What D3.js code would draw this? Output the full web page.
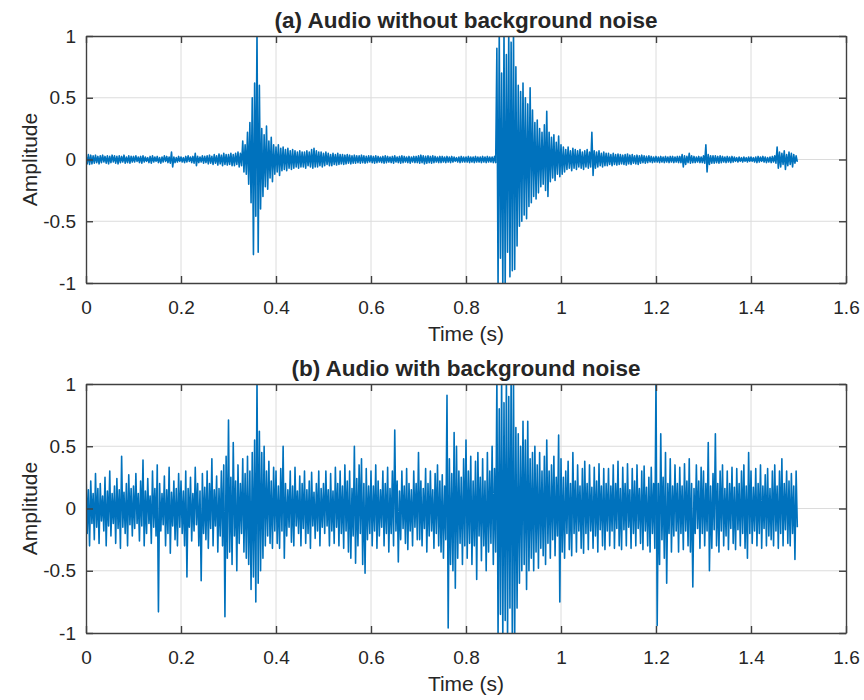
<!DOCTYPE html>
<html>
<head>
<meta charset="utf-8">
<script src="https://cdn.jsdelivr.net/npm/d3@7"></script>
<style>
  body { margin: 0; background: #fff; }
  svg text { font-family: "Liberation Sans", Arial, sans-serif; fill: #262626; }
</style>
</head>
<body>
<div id="container"></div>
<script>
const WIDTH = 864;
const HEIGHT = 700;
const LEFT = 86;
const RIGHT = 846;
const LINE_COLOR = "#0072BD";

// one slot every 5 ms: a positive peak then a negative peak
const T_STEP = 0.005;
const X_TICKS = [0, 0.2, 0.4, 0.6, 0.8, 1, 1.2, 1.4, 1.6];
const Y_TICKS = [-1, -0.5, 0, 0.5, 1];
const TITLES = ["(a) Audio without background noise", "(b) Audio with background noise"];

// (a) clean audio
var cleanTop = [
    0.035,0.04,0.035,0.03,0.035,0.025,0.03,0.035,0.025,0.03,0.025,0.035,0.03,0.025,0.03,0.025,0.035,0.02,0.03,0.025,
    0.025,0.03,0.02,0.025,0.03,0.02,0.015,0.025,0.03,0.02,0.025,0.015,0.02,0.03,0.025,0.02,0.06,0.02,0.015,0.025,
    0.02,0.015,0.025,0.03,0.02,0.025,0.05,0.025,0.02,0.03,0.025,0.03,0.035,0.025,0.04,0.03,0.045,0.035,0.05,0.04,
    0.04,0.05,0.04,0.05,0.06,0.05,0.15,0.12,0.22,0.3,0.5,0.62,1.05,0.6,0.25,0.2,0.27,0.15,0.18,0.12,
    0.1,0.12,0.09,0.1,0.08,0.09,0.07,0.08,0.07,0.06,0.07,0.06,0.06,0.07,0.06,0.08,0.09,0.07,0.06,0.06,
    0.05,0.06,0.05,0.04,0.05,0.04,0.05,0.04,0.04,0.035,0.04,0.035,0.03,0.035,0.03,0.03,0.035,0.03,0.025,0.03,
    0.03,0.025,0.03,0.025,0.02,0.025,0.03,0.025,0.02,0.025,0.03,0.02,0.025,0.03,0.025,0.02,0.025,0.02,0.025,0.025,
    0.03,0.035,0.03,0.025,0.03,0.025,0.03,0.025,0.02,0.025,0.025,0.02,0.025,0.02,0.025,0.02,0.015,0.02,0.025,0.02,
    0.02,0.025,0.02,0.02,0.025,0.02,0.02,0.025,0.02,0.025,0.02,0.02,0.025,0.9,1.05,0.7,1.05,0.85,1.05,0.95,
    1.05,0.75,0.6,0.55,0.62,0.5,0.45,0.58,0.4,0.3,0.32,0.25,0.22,0.28,0.39,0.22,0.18,0.2,0.14,0.19,
    0.12,0.1,0.08,0.1,0.07,0.09,0.08,0.07,0.08,0.06,0.07,0.08,0.06,0.22,0.07,0.06,0.07,0.05,0.06,0.05,
    0.05,0.04,0.05,0.04,0.045,0.04,0.035,0.04,0.045,0.035,0.04,0.03,0.035,0.03,0.035,0.03,0.025,0.03,0.025,0.02,
    0.025,0.02,0.025,0.02,0.025,0.02,0.025,0.025,0.02,0.025,0.025,0.04,0.03,0.025,0.05,0.03,0.025,0.02,0.025,0.02,
    0.03,0.12,0.04,0.03,0.03,0.03,0.025,0.03,0.025,0.02,0.025,0.02,0.025,0.02,0.015,0.02,0.015,0.02,0.015,0.02,
    0.02,0.015,0.02,0.025,0.02,0.025,0.02,0.015,0.02,0.025,0.03,0.1,0.06,0.05,0.07,0.04,0.06,0.05,0.04,0.03
];
var cleanBottom = [
    -0.035,-0.04,-0.035,-0.03,-0.025,-0.035,-0.025,-0.02,-0.03,-0.035,-0.025,-0.02,-0.03,-0.035,-0.025,-0.02,-0.03,-0.025,-0.03,-0.02,
    -0.02,-0.015,-0.025,-0.03,-0.02,-0.015,-0.025,-0.03,-0.02,-0.015,-0.025,-0.03,-0.02,-0.015,-0.025,-0.03,-0.06,-0.025,-0.02,-0.015,
    -0.02,-0.025,-0.02,-0.015,-0.025,-0.03,-0.05,-0.025,-0.02,-0.03,-0.025,-0.035,-0.03,-0.04,-0.03,-0.045,-0.035,-0.05,-0.04,-0.045,
    -0.04,-0.05,-0.05,-0.04,-0.06,-0.05,-0.1,-0.12,-0.2,-0.35,-0.77,-0.46,-0.75,-0.4,-0.3,-0.22,-0.24,-0.15,-0.18,-0.12,
    -0.1,-0.13,-0.09,-0.08,-0.09,-0.07,-0.08,-0.07,-0.06,-0.07,-0.06,-0.06,-0.07,-0.05,-0.06,-0.07,-0.06,-0.06,-0.05,-0.06,
    -0.05,-0.04,-0.05,-0.05,-0.04,-0.045,-0.04,-0.035,-0.04,-0.035,-0.03,-0.035,-0.03,-0.03,-0.025,-0.03,-0.025,-0.03,-0.025,-0.02,
    -0.025,-0.03,-0.025,-0.02,-0.025,-0.03,-0.025,-0.02,-0.025,-0.03,-0.02,-0.025,-0.03,-0.025,-0.02,-0.025,-0.03,-0.02,-0.025,-0.025,
    -0.03,-0.025,-0.035,-0.03,-0.025,-0.03,-0.025,-0.02,-0.025,-0.025,-0.02,-0.025,-0.02,-0.025,-0.02,-0.015,-0.02,-0.025,-0.02,-0.02,
    -0.02,-0.025,-0.02,-0.025,-0.02,-0.02,-0.025,-0.02,-0.025,-0.02,-0.02,-0.025,-0.025,-1.05,-0.8,-1.05,-1.05,-0.75,-0.95,-0.9,
    -0.89,-0.7,-0.54,-0.5,-0.45,-0.48,-0.38,-0.35,-0.3,-0.32,-0.27,-0.22,-0.2,-0.25,-0.3,-0.18,-0.15,-0.17,-0.12,-0.14,
    -0.12,-0.1,-0.08,-0.07,-0.09,-0.07,-0.08,-0.06,-0.07,-0.08,-0.06,-0.07,-0.06,-0.13,-0.07,-0.06,-0.05,-0.06,-0.05,-0.05,
    -0.04,-0.05,-0.04,-0.045,-0.04,-0.035,-0.04,-0.045,-0.035,-0.04,-0.03,-0.035,-0.04,-0.03,-0.025,-0.03,-0.025,-0.02,-0.025,-0.02,
    -0.02,-0.025,-0.02,-0.025,-0.02,-0.025,-0.02,-0.025,-0.02,-0.025,-0.025,-0.06,-0.04,-0.025,-0.03,-0.025,-0.025,-0.02,-0.025,-0.025,
    -0.03,-0.1,-0.04,-0.03,-0.03,-0.025,-0.03,-0.025,-0.02,-0.025,-0.02,-0.025,-0.02,-0.015,-0.02,-0.015,-0.02,-0.015,-0.02,-0.015,
    -0.015,-0.02,-0.025,-0.02,-0.015,-0.02,-0.025,-0.02,-0.025,-0.02,-0.03,-0.07,-0.06,-0.04,-0.08,-0.05,-0.04,-0.06,-0.03,-0.02
];

// (b) audio with background noise
var noisyTop = [
    0.3,0.15,0.22,0.12,0.28,0.16,0.2,0.1,0.25,0.14,0.3,0.12,0.18,0.24,0.15,0.42,0.13,0.2,0.27,0.16,
    0.18,0.28,0.12,0.22,0.39,0.14,0.24,0.1,0.3,0.16,0.35,0.2,0.12,0.26,0.15,0.33,0.13,0.22,0.16,0.28,
    0.22,0.14,0.3,0.16,0.25,0.12,0.33,0.2,0.14,0.28,0.17,0.3,0.2,0.4,0.15,0.26,0.16,0.3,0.35,0.42,
    0.71,0.25,0.53,0.22,0.35,0.2,0.4,0.28,0.42,0.3,0.45,0.55,1.05,0.62,0.45,0.5,0.3,0.38,0.22,0.33,
    0.3,0.18,0.32,0.5,0.2,0.15,0.3,0.18,0.33,0.14,0.26,0.2,0.3,0.15,0.22,0.29,0.13,0.2,0.3,0.16,
    0.2,0.3,0.15,0.28,0.14,0.33,0.2,0.3,0.18,0.35,0.22,0.3,0.16,0.5,0.24,0.35,0.4,0.2,0.32,0.18,
    0.3,0.18,0.35,0.22,0.15,0.3,0.2,0.33,0.16,0.3,0.63,0.22,0.14,0.3,0.18,0.32,0.2,0.15,0.3,0.2,
    0.45,0.22,0.16,0.32,0.2,0.3,0.15,0.28,0.35,0.22,0.27,0.18,0.91,0.4,0.28,0.61,0.5,0.3,0.25,0.4,
    0.55,0.3,0.42,0.22,0.38,0.45,0.25,0.4,0.22,0.45,0.3,0.5,0.32,1.05,0.8,1.05,0.85,1.05,0.9,1.05,
    1.05,0.65,0.6,0.5,0.7,0.55,0.7,0.4,0.45,0.5,0.35,0.45,0.3,0.42,0.55,0.3,0.35,0.42,0.25,0.59,
    0.4,0.25,0.3,0.38,0.2,0.45,0.22,0.35,0.18,0.32,0.38,0.2,0.35,0.17,0.33,0.22,0.36,0.18,0.32,0.2,
    0.32,0.18,0.35,0.2,0.38,0.16,0.33,0.2,0.36,0.15,0.32,0.22,0.35,0.16,0.3,0.34,0.17,0.25,0.33,0.2,
    1.05,0.2,0.6,0.25,0.45,0.2,0.4,0.18,0.35,0.2,0.33,0.18,0.36,0.22,0.4,0.2,0.16,0.35,0.22,0.33,
    0.3,0.2,0.53,0.18,0.28,0.6,0.2,0.3,0.35,0.16,0.3,0.2,0.33,0.17,0.32,0.2,0.3,0.35,0.18,0.45,
    0.3,0.17,0.32,0.2,0.35,0.18,0.27,0.32,0.16,0.3,0.35,0.18,0.3,0.4,0.2,0.3,0.22,0.28,0.18,0.3
];
var noisyBottom = [
    -0.2,-0.3,-0.12,-0.25,-0.15,-0.28,-0.1,-0.18,-0.3,-0.14,-0.22,-0.12,-0.28,-0.16,-0.32,-0.15,-0.2,-0.3,-0.13,-0.22,
    -0.16,-0.12,-0.26,-0.14,-0.3,-0.2,-0.12,-0.28,-0.15,-0.22,-0.83,-0.18,-0.13,-0.3,-0.2,-0.36,-0.14,-0.25,-0.3,-0.15,
    -0.2,-0.3,-0.55,-0.15,-0.26,-0.18,-0.13,-0.3,-0.58,-0.2,-0.25,-0.32,-0.16,-0.3,-0.14,-0.35,-0.22,-0.3,-0.87,-0.4,
    -0.35,-0.45,-0.22,-0.5,-0.28,-0.2,-0.35,-0.4,-0.45,-0.65,-0.55,-0.75,-0.6,-0.5,-0.4,-0.3,-0.22,-0.28,-0.32,-0.18,
    -0.28,-0.32,-0.18,-0.4,-0.22,-0.15,-0.27,-0.3,-0.14,-0.2,-0.3,-0.16,-0.28,-0.2,-0.32,-0.14,-0.24,-0.18,-0.3,-0.15,
    -0.2,-0.14,-0.3,-0.18,-0.28,-0.15,-0.3,-0.2,-0.32,-0.18,-0.35,-0.4,-0.22,-0.44,-0.3,-0.2,-0.45,-0.52,-0.25,-0.2,
    -0.3,-0.18,-0.32,-0.22,-0.15,-0.3,-0.2,-0.35,-0.2,-0.3,-0.18,-0.43,-0.25,-0.16,-0.28,-0.33,-0.18,-0.3,-0.15,-0.25,
    -0.25,-0.3,-0.16,-0.35,-0.22,-0.18,-0.32,-0.2,-0.3,-0.35,-0.4,-0.25,-0.96,-0.45,-0.5,-0.64,-0.4,-0.28,-0.45,-0.3,
    -0.4,-0.28,-0.45,-0.3,-0.57,-0.22,-0.42,-0.3,-0.5,-0.35,-0.28,-0.45,-0.35,-1.05,-0.85,-1.05,-0.9,-1.05,-0.8,-1.05,
    -1.05,-0.8,-0.6,-0.5,-0.45,-0.65,-0.5,-0.4,-0.5,-0.35,-0.48,-0.32,-0.38,-0.45,-0.28,-0.4,-0.25,-0.38,-0.22,-0.75,
    -0.35,-0.4,-0.2,-0.33,-0.38,-0.2,-0.35,-0.18,-0.32,-0.36,-0.2,-0.33,-0.18,-0.32,-0.22,-0.35,-0.17,-0.3,-0.33,-0.18,
    -0.3,-0.18,-0.32,-0.16,-0.3,-0.33,-0.17,-0.3,-0.15,-0.32,-0.2,-0.3,-0.16,-0.28,-0.33,-0.18,-0.3,-0.35,-0.2,-0.32,
    -0.94,-0.45,-0.25,-0.4,-0.6,-0.2,-0.35,-0.22,-0.18,-0.35,-0.2,-0.33,-0.18,-0.3,-0.35,-0.63,-0.2,-0.16,-0.32,-0.2,
    -0.3,-0.18,-0.5,-0.32,-0.17,-0.3,-0.35,-0.18,-0.3,-0.22,-0.33,-0.16,-0.28,-0.33,-0.17,-0.3,-0.2,-0.32,-0.4,-0.2,
    -0.28,-0.18,-0.3,-0.2,-0.32,-0.16,-0.3,-0.22,-0.25,-0.3,-0.18,-0.32,-0.2,-0.3,-0.17,-0.28,-0.3,-0.2,-0.41,-0.15
];

var panels = [
    {title: TITLES[0], top: 36, bottom: 283, hi: cleanTop, lo: cleanBottom},
    {title: TITLES[1], top: 384, bottom: 633, hi: noisyTop, lo: noisyBottom}
];

// peaks in time order: positive at the slot start, negative half a slot later
var toSamples = function (hi, lo) {
    var out = [];
    hi.forEach(function (v, i) {
        out.push({t: i * T_STEP, v: v});
        out.push({t: i * T_STEP + T_STEP / 2, v: lo[i]});
    });
    return out;
};

var SVG = d3.select("#container").append("svg")
    .attr("width", WIDTH)
    .attr("height", HEIGHT);

var XScale = d3.scaleLinear().domain([0, 1.6]).range([LEFT, RIGHT]);
var fmt = function (d) { return String(d); };

var drawPanel = function (p, k) {
    var yScale = d3.scaleLinear().domain([-1, 1]).range([p.bottom, p.top]);
    var g = SVG.append("g");
    var w = RIGHT - LEFT, h = p.bottom - p.top;

    // grid
    g.append("g").selectAll("line").data(X_TICKS.slice(1, -1)).join("line")
        .attr("x1", d => XScale(d)).attr("x2", d => XScale(d))
        .attr("y1", p.top).attr("y2", p.bottom)
        .attr("stroke", "#dcdcdc").attr("stroke-width", 1);
    g.append("g").selectAll("line").data(Y_TICKS.slice(1, -1)).join("line")
        .attr("x1", LEFT).attr("x2", RIGHT)
        .attr("y1", d => yScale(d)).attr("y2", d => yScale(d))
        .attr("stroke", "#dcdcdc").attr("stroke-width", 1);

    // waveform
    g.append("clipPath").attr("id", "clip" + k)
        .append("rect").attr("x", LEFT).attr("y", p.top).attr("width", w).attr("height", h);
    var line = d3.line().x(d => XScale(d.t)).y(d => yScale(d.v));
    g.append("path")
        .datum(toSamples(p.hi, p.lo))
        .attr("clip-path", "url(#clip" + k + ")")
        .attr("fill", "none")
        .attr("stroke", LINE_COLOR)
        .attr("stroke-width", 1.6)
        .attr("stroke-linejoin", "round")
        .attr("d", line);

    // axes, ticks inward on all four sides
    var axes = [
        {ax: d3.axisBottom(XScale).tickValues(X_TICKS).tickFormat(fmt), tr: [0, p.bottom], labels: true, pad: 18},
        {ax: d3.axisTop(XScale).tickValues(X_TICKS), tr: [0, p.top], labels: false, pad: 3},
        {ax: d3.axisLeft(yScale).tickValues(Y_TICKS).tickFormat(fmt), tr: [LEFT, 0], labels: true, pad: 10},
        {ax: d3.axisRight(yScale).tickValues(Y_TICKS), tr: [RIGHT, 0], labels: false, pad: 3}
    ];
    axes.forEach(function (a) {
        var ag = g.append("g")
            .attr("transform", "translate(" + a.tr[0] + "," + a.tr[1] + ")")
            .call(a.ax.tickSizeInner(-7).tickSizeOuter(0).tickPadding(a.pad));
        ag.select(".domain").attr("stroke", "#404040").attr("stroke-width", 1.4);
        ag.selectAll(".tick line").attr("stroke", "#404040").attr("stroke-width", 1.4);
        ag.selectAll(".tick text")
            .attr("font-size", 19)
            .attr("fill", "#262626")
            .style("display", a.labels ? null : "none");
    });

    // title and labels
    g.append("text")
        .attr("x", (LEFT + RIGHT) / 2).attr("y", p.top - 8)
        .attr("text-anchor", "middle")
        .attr("font-size", 22.5).attr("font-weight", "bold")
        .text(p.title);
    g.append("text")
        .attr("x", (LEFT + RIGHT) / 2).attr("y", p.bottom + 58)
        .attr("text-anchor", "middle")
        .attr("font-size", 21)
        .text("Time (s)");
    g.append("text")
        .attr("transform", "translate(37," + (p.top + p.bottom) / 2 + ") rotate(-90)")
        .attr("text-anchor", "middle")
        .attr("font-size", 21)
        .text("Amplitude");
};

panels.forEach(drawPanel);
</script>
</body>
</html>
